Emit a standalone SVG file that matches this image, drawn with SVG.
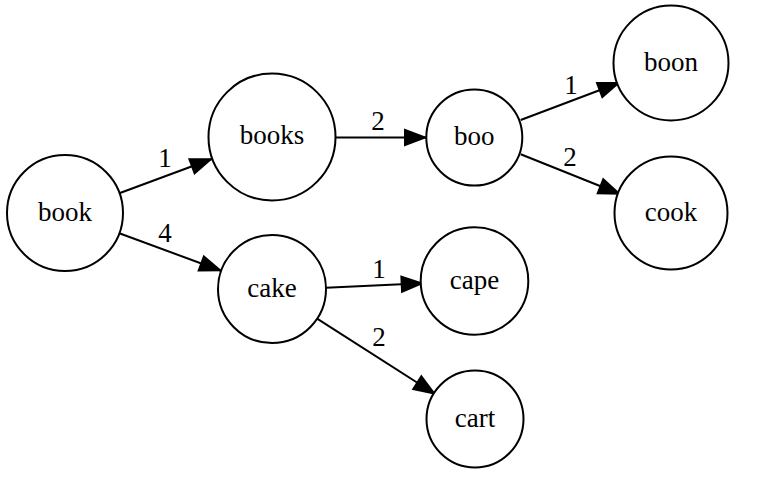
<svg xmlns="http://www.w3.org/2000/svg" width="771" height="479" viewBox="0 0 771 479">
<style>
  .node circle { fill: #ffffff; stroke: #000000; stroke-width: 2; }
  text { font-family: "Liberation Serif", "Times New Roman", serif; font-size: 27px; fill: #000000; text-anchor: middle; }
  .edge line { stroke: #000000; stroke-width: 2; fill: none; marker-end: url(#arrow); }
</style>
<defs>
  <marker id="arrow" markerUnits="userSpaceOnUse" markerWidth="30" markerHeight="20" refX="21" refY="7.5" orient="auto" overflow="visible">
    <path d="M0,0 L20,7.5 L0,15 Z" fill="#000000" stroke="#000000" stroke-width="2"/>
  </marker>
</defs>
<rect width="771" height="479" fill="#ffffff"/>
<g id="edges">
  <g class="edge" id="e-book-books"><line x1="119.3" y1="193.3" x2="211.7" y2="159"/><text x="165" y="167">1</text></g>
  <g class="edge" id="e-book-cake"><line x1="119.3" y1="233.3" x2="221" y2="270.7"/><text x="165" y="242">4</text></g>
  <g class="edge" id="e-books-boo"><line x1="336" y1="137.5" x2="426" y2="137.5"/><text x="378" y="130">2</text></g>
  <g class="edge" id="e-boo-boon"><line x1="520.7" y1="120" x2="619.3" y2="82.7"/><text x="571" y="94">1</text></g>
  <g class="edge" id="e-boo-cook"><line x1="520.7" y1="154.3" x2="620" y2="194"/><text x="570" y="166">2</text></g>
  <g class="edge" id="e-cake-cape"><line x1="326" y1="287.7" x2="422.7" y2="283.3"/><text x="379" y="278">1</text></g>
  <g class="edge" id="e-cake-cart"><line x1="316.7" y1="318.3" x2="435" y2="394"/><text x="379" y="346">2</text></g>
</g>
<g class="node" id="book"><circle cx="65" cy="213" r="58"/><text x="65" y="221">book</text></g>
<g class="node" id="books"><circle cx="272" cy="137" r="63.5"/><text x="272" y="144">books</text></g>
<g class="node" id="boo"><circle cx="474.3" cy="137.5" r="48"/><text x="474.3" y="144.5">boo</text></g>
<g class="node" id="boon"><circle cx="671" cy="63" r="57.5"/><text x="671" y="70.5">boon</text></g>
<g class="node" id="cook"><circle cx="671" cy="213" r="56.5"/><text x="671" y="220.5">cook</text></g>
<g class="node" id="cake"><circle cx="272" cy="289" r="54"/><text x="272" y="296.5">cake</text></g>
<g class="node" id="cape"><circle cx="474.5" cy="281" r="53.8"/><text x="474.5" y="288.5">cape</text></g>
<g class="node" id="cart"><circle cx="475" cy="419" r="48.5"/><text x="475" y="426.5">cart</text></g>
</svg>
